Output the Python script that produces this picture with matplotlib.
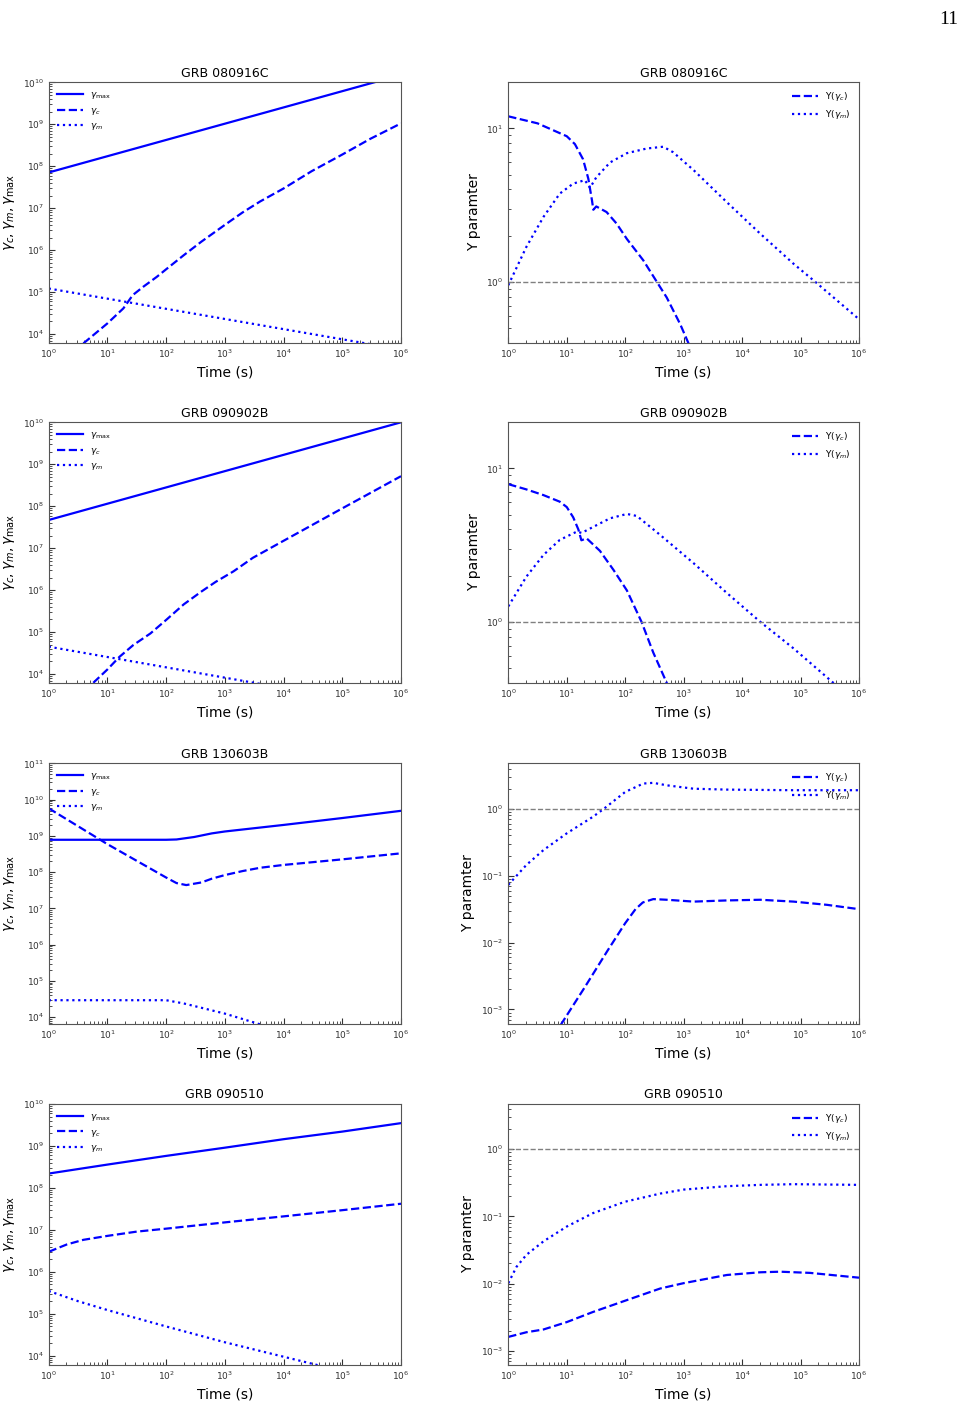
import matplotlib
matplotlib.use("Agg")
import matplotlib.pyplot as plt
from matplotlib.ticker import NullFormatter

plt.rcParams['font.family'] = 'DejaVu Sans'
plt.rcParams['axes.edgecolor'] = '#555555'
plt.rcParams['xtick.color'] = '#333333'
plt.rcParams['ytick.color'] = '#333333'
plt.rcParams['xtick.direction'] = 'in'
plt.rcParams['ytick.direction'] = 'in'

# ---- GRB 080916C ----
t1_max = [1, 1e6]
g1_max = [7.1e7, 1.5e10]
t1_c = [3.9, 10, 18.7, 27, 41, 69, 100, 200, 400, 1e3, 2e3, 4e3, 1e4, 3e4, 1e5, 3e5, 1e6]
g1_c = [6.0e3, 1.8e4, 4.1e4, 8.5e4, 1.35e5, 2.3e5, 3.5e5, 7.6e5, 1.6e6, 4.0e6, 7.9e6,
        1.45e7, 2.95e7, 7.6e7, 1.9e8, 4.5e8, 1.05e9]
t1_m = [1, 1e6]
g1_m = [1.22e5, 4.3e3]
t1_yc = [1, 3.16, 10, 13.8, 19, 23.4, 27, 28.5, 32, 48, 71, 107, 204, 347, 513, 871, 1200, 2000]
y1_c = [12.0, 10.8, 8.9, 7.9, 6.3, 4.7, 3.4, 2.95, 3.1, 2.85, 2.4, 1.9, 1.38, 1.0, 0.79, 0.53, 0.40, 0.25]
t1_ym = [1, 2.04, 4, 7.6, 12.9, 20.4, 25, 32, 55, 107, 234, 447, 660, 1480, 5500, 20400, 76000, 178000, 1e6]
y1_m = [0.95, 1.69, 2.65, 3.76, 4.37, 4.6, 4.1, 4.8, 6.0, 6.9, 7.4, 7.6, 7.0, 5.35, 3.3, 2.06, 1.31, 1.0, 0.57]

# ---- GRB 090902B ----
t2_max = [1, 1e6]
g2_max = [4.7e7, 1.0e10]
t2_c = [5.75, 10, 16, 27.5, 54, 100, 200, 400, 700, 1400, 3e3, 1e4, 1e5, 1e6]
g2_c = [6.2e3, 1.29e4, 2.57e4, 4.9e4, 9.3e4, 1.95e5, 4.6e5, 9.3e5, 1.58e6, 2.8e6, 5.9e6,
        1.5e7, 8.9e7, 5.2e8]
t2_m = [1, 1e6]
g2_m = [4.5e4, 1.5e3]
t2_yc = [1, 2.04, 4, 7.6, 10, 12.9, 15.8, 17.8, 21.9, 37, 63, 107, 190, 302, 513, 800]
y2_c = [7.9, 7.3, 6.7, 6.07, 5.6, 4.8, 4.0, 3.4, 3.5, 2.9, 2.18, 1.6, 1.0, 0.63, 0.40, 0.25]
t2_ym = [1, 2.04, 4, 7.6, 14.8, 18, 37, 55, 107, 158, 398, 1480, 5500, 20400, 76000, 363000, 1e6]
y2_m = [1.26, 1.97, 2.73, 3.42, 3.87, 3.8, 4.38, 4.73, 5.05, 4.9, 3.68, 2.41, 1.54, 1.0, 0.67, 0.40, 0.28]

# ---- GRB 130603B ----
t3_max = [1, 100, 150, 300, 600, 1e3, 1e4, 1e5, 1e6]
g3_max = [7.8e8, 7.8e8, 7.95e8, 9.3e8, 1.17e9, 1.32e9, 2.0e9, 3.1e9, 4.9e9]
t3_c = [1, 10, 100, 150, 220, 400, 600, 1e3, 2e3, 4e3, 1e4, 1e5, 1e6]
g3_c = [5.75e9, 5.9e8, 7.1e7, 5.0e7, 4.4e7, 5.2e7, 6.6e7, 8.3e7, 1.07e8, 1.32e8, 1.58e8, 2.25e8, 3.3e8]
t3_m = [1, 100, 200, 380, 1e3, 3500, 1e4]
g3_m = [2.95e4, 2.95e4, 2.4e4, 1.86e4, 1.26e4, 6.8e3, 4.0e3]
t3_yc = [5, 8.1, 20, 50, 100, 150, 200, 302, 513, 1480, 5500, 20400, 76000, 282000, 1e6]
y3_c = [2.9e-4, 6.1e-4, 2.1e-3, 7.6e-3, 1.95e-2, 3.16e-2, 3.98e-2, 4.47e-2, 4.37e-2, 4.1e-2,
        4.27e-2, 4.37e-2, 4.1e-2, 3.67e-2, 3.16e-2]
t3_ym = [1, 2.04, 4, 10, 28, 43, 100, 204, 302, 513, 1480, 5500, 76000, 1e6]
y3_m = [0.073, 0.145, 0.242, 0.43, 0.76, 1.0, 1.79, 2.39, 2.45, 2.25, 2.0, 1.94, 1.9, 1.9]

# ---- GRB 090510 ----
t4_max = [1, 10, 100, 1e3, 1e4, 1e5, 1e6]
g4_max = [2.2e8, 3.6e8, 5.8e8, 9.1e8, 1.45e9, 2.2e9, 3.5e9]
t4_c = [1, 1.37, 2.04, 3.9, 10, 31.6, 100, 1e3, 1e4, 1e5, 1e6]
g4_c = [3.0e6, 3.6e6, 4.5e6, 5.8e6, 7.2e6, 9.1e6, 1.07e7, 1.51e7, 2.1e7, 2.95e7, 4.2e7]
t4_m = [1, 3.16, 10, 100, 1e3, 1e4, 1e5]
g4_m = [3.5e5, 2.0e5, 1.23e5, 5.0e4, 2.1e4, 9.5e3, 4.3e3]
t4_yc = [1, 2.04, 4, 10, 28, 100, 398, 1e3, 5500, 20400, 44700, 145000, 1e6]
y4_c = [1.62e-3, 1.9e-3, 2.09e-3, 2.69e-3, 3.8e-3, 5.6e-3, 8.5e-3, 1.02e-2, 1.35e-2, 1.48e-2,
        1.51e-2, 1.45e-2, 1.23e-2]
t4_ym = [1, 1.38, 2.04, 4, 10, 28, 100, 398, 1e3, 5500, 20400, 76000, 1e6]
y4_m = [0.0102, 0.0178, 0.0269, 0.0427, 0.0708, 0.112, 0.166, 0.219, 0.251, 0.282, 0.295, 0.302, 0.295]

names = ["GRB 080916C", "GRB 090902B", "GRB 130603B", "GRB 090510"]
gamma_data = [
    (t1_max, g1_max, t1_c, g1_c, t1_m, g1_m),
    (t2_max, g2_max, t2_c, g2_c, t2_m, g2_m),
    (t3_max, g3_max, t3_c, g3_c, t3_m, g3_m),
    (t4_max, g4_max, t4_c, g4_c, t4_m, g4_m),
]
y_data = [
    (t1_yc, y1_c, t1_ym, y1_m),
    (t2_yc, y2_c, t2_ym, y2_m),
    (t3_yc, y3_c, t3_ym, y3_m),
    (t4_yc, y4_c, t4_ym, y4_m),
]
gamma_ylims = [(6.2e3, 1e10), (6.2e3, 1e10), (6.6e3, 1e11), (6.2e3, 1e10)]
y_ylims = [(0.4, 20), (0.4, 20), (6.1e-4, 4.8), (6.3e-4, 4.7)]

W, H = 965, 1421
fig = plt.figure(figsize=(W / 100, H / 100), dpi=100)
tops = [82.3, 422.3, 763.3, 1104]
ah = 260.5

for i in range(4):
    bottom = 1 - (tops[i] + ah) / H
    ax1 = fig.add_axes([48.7 / W, bottom, 352.3 / W, ah / H])
    ax2 = fig.add_axes([508.3 / W, bottom, 350.7 / W, ah / H])

    tm, gm_, tc, gc, tmm, gmm = gamma_data[i]
    ax1.plot(tm, gm_, 'b-', lw=1.6, label=r'$\gamma_{\rm max}$')
    ax1.plot(tc, gc, 'b--', lw=1.6, label=r'$\gamma_c$')
    ax1.plot(tmm, gmm, 'b:', lw=1.6, label=r'$\gamma_m$')
    ax1.set_yscale('log')
    ax1.set_ylim(*gamma_ylims[i])
    ax1.yaxis.set_minor_formatter(NullFormatter())
    ax1.set_ylabel(r'$\gamma_c,\gamma_m,\gamma_{\rm max}$', fontsize=10)
    ax1.legend(loc='upper left', frameon=False, fontsize=6.5, handlelength=2.9)

    tyc, yc, tym, ym = y_data[i]
    ax2.plot(tyc, yc, 'b--', lw=1.6, label=r'Y($\gamma_c$)')
    ax2.plot(tym, ym, 'b:', lw=1.6, label=r'Y($\gamma_m$)')
    ax2.axhline(1, color='gray', ls='--', lw=1)
    ax2.set_yscale('log')
    ax2.set_ylim(*y_ylims[i])
    ax2.yaxis.set_minor_formatter(NullFormatter())
    ax2.set_ylabel('Y paramter', fontsize=10)
    ax2.legend(loc='upper right', frameon=False, fontsize=6.5, handlelength=2.9)

    for ax in (ax1, ax2):
        ax.set_xscale('log')
        ax.set_xlim(1, 1e6)
        ax.set_xticks([1, 10, 100, 1e3, 1e4, 1e5, 1e6])
        ax.xaxis.set_minor_formatter(NullFormatter())
        ax.set_title(names[i], fontsize=9, pad=4)
        ax.set_xlabel('Time (s)', fontsize=10)
        ax.tick_params(which='major', labelsize=6.5, length=4, width=0.8)
        ax.tick_params(which='minor', length=2, width=0.6)

fig.text(0.993, 0.992, '11', ha='right', va='top', fontsize=14, family='Liberation Serif')

fig.savefig('out.png', dpi=100)
